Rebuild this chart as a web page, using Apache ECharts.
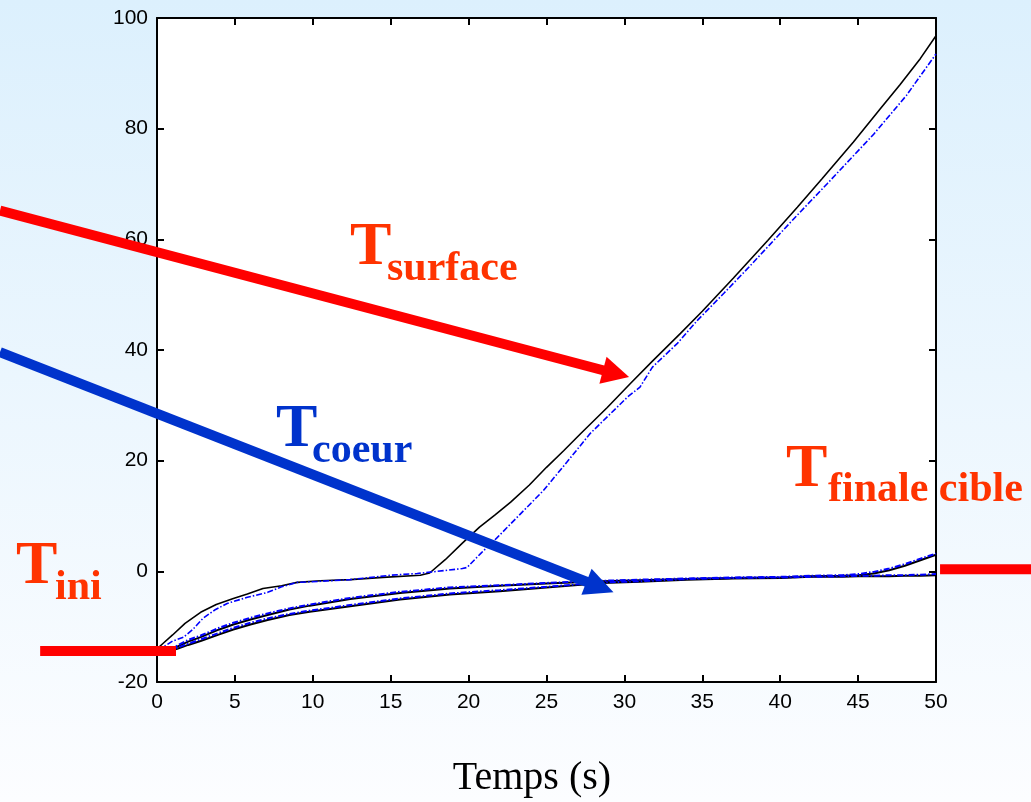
<!DOCTYPE html>
<html><head><meta charset="utf-8">
<script src="https://cdn.jsdelivr.net/npm/echarts@6/dist/echarts.min.js"></script>
<style>html,body{margin:0;padding:0;width:1031px;height:802px;overflow:hidden}#c{width:1031px;height:802px}</style>
</head><body><div id="c"></div>
<script>
// ---- axis definitions ----
const xMin = 0, xMax = 50, xStep = 5;
const yMin = -20, yMax = 100, yStep = 20;
const xTitle = 'Temps (s)';

// ---- surface temperature (black solid = measured, blue dash-dot = simulated) ----
const tSurfK = [0, 0.4, 1, 1.8, 2.8, 3.8, 4.9, 5.8, 6.8, 8, 9, 10.5, 12.4, 14.5, 16.9, 17.5, 18.5, 19.6, 20.7, 21.7, 22.7, 23.9, 25, 26.1, 27.2, 28.9, 30.4, 31.8, 33.6, 35, 37, 39.2, 41.1, 42.7, 44.7, 46.4, 47.7, 49, 50];
const ySurfK = [-14, -13, -11.5, -9.4, -7.4, -6, -4.9, -4.1, -3.1, -2.6, -2, -1.7, -1.5, -1.1, -0.7, -0.3, 2.1, 5.1, 8, 10.2, 12.5, 15.6, 18.8, 21.8, 24.9, 29.6, 34, 38, 43, 47, 53, 59.8, 65.8, 71, 77.6, 83.5, 88, 92.7, 96.8];
const tSurfB = [0, 0.4, 1, 1.7, 2.3, 2.95, 3.7, 4.5, 5.8, 7.1, 8, 9, 10.5, 12.4, 15, 16.7, 18, 19.6, 19.9, 20.8, 21.8, 23.3, 24.8, 26.3, 27.8, 29, 30.2, 31, 31.8, 33.4, 34.7, 36.4, 38.1, 40.8, 43, 46, 48.1, 50];
const ySurfB = [-14, -13.7, -12.6, -11.9, -10.5, -8.5, -7, -5.8, -4.7, -3.8, -2.8, -2, -1.8, -1.5, -0.7, -0.4, 0, 0.5, 0.7, 3.3, 6, 10.3, 14.6, 19.7, 24.9, 28.2, 31.5, 33.3, 36.9, 41.2, 45.4, 50.3, 55.3, 63.5, 70, 79, 86, 93.5];

// ---- inner temperatures ----
const tCore = [0, 1, 1.3, 2, 2.8, 4, 4.9, 6, 7.1, 8.5, 9.8, 12.4, 15.6, 18.8, 22, 25, 28.6, 31, 34, 37, 40, 42, 44, 45, 46, 47, 48, 49, 50];
const midK  = [-14.2, -14, -13.6, -12.7, -11.9, -10.5, -9.6, -8.7, -7.9, -6.9, -6.2, -5, -3.9, -3.1, -2.6, -2.2, -1.8, -1.6, -1.4, -1.2, -1.1, -0.9, -0.8, -0.7, -0.4, 0.2, 1.0, 2.0, 3.0];
const midB  = [-14.2, -13.9, -13.4, -12.4, -11.6, -10.2, -9.3, -8.4, -7.6, -6.7, -6.0, -4.8, -3.7, -2.9, -2.5, -2.1, -1.7, -1.5, -1.3, -1.1, -1.0, -0.8, -0.7, -0.5, -0.1, 0.5, 1.3, 2.3, 3.2];
const coreK = [-14.4, -14.2, -14, -13.3, -12.6, -11.4, -10.5, -9.6, -8.8, -7.9, -7.3, -6.3, -5.1, -4.2, -3.6, -2.9, -2.1, -1.9, -1.5, -1.3, -1.2, -1.0, -1.0, -0.9, -0.9, -0.9, -0.8, -0.8, -0.7];
const coreB = [-14.4, -14.1, -13.8, -13.1, -12.3, -11.1, -10.2, -9.3, -8.5, -7.7, -7.1, -6.1, -4.9, -4.0, -3.4, -2.8, -2.0, -1.8, -1.4, -1.2, -1.1, -1.0, -0.9, -0.8, -0.8, -0.7, -0.7, -0.6, -0.5];

// ---- annotation anchors (data units) ----
const arrowSurface = [[-10.08, 65.2], [30.3, 35.1]];
const arrowCore = [[-10.08, 39.6], [29.3, -3.8]];
const markIni = [[-7.5, -14.4], [1.22, -14.4]];
const markFinal = [[50.26, 0.36], [56.5, 0.36]];

const zip = (xs, ys) => xs.map((x, i) => [x, ys[i]]);
const chart = echarts.init(document.getElementById('c'));
const ORANGE = '#ff3300', RED = '#ff0000', BLUE = '#0033cc';
const SERIF = '"Liberation Serif","Times New Roman",serif';
const SANS = '"Liberation Sans",Arial,Helvetica,sans-serif';

const axisCommon = {
  type: 'value',
  axisLine: { show: true, onZero: false, lineStyle: { color: '#000', width: 2 } },
  axisTick: { show: true, inside: true, length: 7, lineStyle: { color: '#000', width: 2 } },
  splitLine: { show: false }
};
const lineSeries = (data, color, dashed, width) => ({
  type: 'line', data, showSymbol: false, symbol: 'none', animation: false,
  xAxisIndex: 0, yAxisIndex: 0,
  lineStyle: { color, width, type: dashed ? [6, 2, 1.5, 2] : 'solid' }
});

chart.setOption({
  animation: false,
  backgroundColor: new echarts.graphic.LinearGradient(0, 0, 0, 1, [
    { offset: 0, color: '#dcf0fd' }, { offset: 1, color: '#fcfdff' }
  ]),
  grid: { left: 157, right: 95, top: 18, bottom: 120, show: true, backgroundColor: '#ffffff', borderWidth: 0 },
  xAxis: [
    Object.assign({}, axisCommon, { position: 'bottom', min: xMin, max: xMax, interval: xStep,
      axisLabel: { color: '#000', fontFamily: SANS, fontSize: 21, margin: 10 } }),
    Object.assign({}, axisCommon, { position: 'top', min: xMin, max: xMax, interval: xStep, axisLabel: { show: false } })
  ],
  yAxis: [
    Object.assign({}, axisCommon, { position: 'left', min: yMin, max: yMax, interval: yStep,
      axisLabel: { color: '#000', fontFamily: SANS, fontSize: 21, margin: 9 } }),
    Object.assign({}, axisCommon, { position: 'right', min: yMin, max: yMax, interval: yStep, axisLabel: { show: false } })
  ],
  series: [
    lineSeries(zip(tCore, coreK), '#000', false, 2),
    lineSeries(zip(tCore, midK), '#000', false, 2),
    lineSeries(zip(tCore, coreB), '#0000ff', true, 2),
    lineSeries(zip(tCore, midB), '#0000ff', true, 2),
    lineSeries(zip(tSurfK, ySurfK), '#000', false, 1.6),
    lineSeries(zip(tSurfB, ySurfB), '#0000ff', true, 1.6)
  ]
});

const px = p => chart.convertToPixel({ seriesIndex: 0 }, p);

function arrow(pts, color, width, headLen, headHalf) {
  const a = px(pts[0]), b = px(pts[1]);
  const dx = b[0] - a[0], dy = b[1] - a[1], L = Math.hypot(dx, dy);
  const ux = dx / L, uy = dy / L, nx = -uy, ny = ux;
  const base = [b[0] - ux * headLen, b[1] - uy * headLen];
  return [
    { type: 'line', z: 100, shape: { x1: a[0], y1: a[1], x2: base[0] + ux * 2, y2: base[1] + uy * 2 },
      style: { stroke: color, lineWidth: width } },
    { type: 'polygon', z: 100, shape: { points: [b, [base[0] + nx * headHalf, base[1] + ny * headHalf], [base[0] - nx * headHalf, base[1] - ny * headHalf]] },
      style: { fill: color } }
  ];
}
function bar(pts, color, width) {
  const a = px(pts[0]), b = px(pts[1]);
  return { type: 'line', z: 100, shape: { x1: a[0], y1: a[1], x2: b[0], y2: b[1] }, style: { stroke: color, lineWidth: width } };
}
// text placed by left edge and baseline
function txt(s, left, baseline, size, color, weight) {
  return { type: 'text', z: 110, x: left, y: baseline - 0.33 * size,
    style: { text: s, fill: color, font: (weight || 'bold') + ' ' + size + 'px ' + SERIF, verticalAlign: 'middle', align: 'left' } };
}
function label(main, sub, left, baseline, subLeft, subBaseline, color) {
  return [txt(main, left, baseline, 62, color), txt(sub, subLeft, subBaseline, 42, color)];
}

const g = [].concat(
  arrow(arrowSurface, RED, 10, 27, 14),
  arrow(arrowCore, BLUE, 10, 29, 14),
  [bar(markIni, RED, 10), bar(markFinal, RED, 10)],
  label('T', 'surface', 350, 268, 387, 283, ORANGE),
  label('T', 'coeur', 276, 450, 312, 465, BLUE),
  label('T', 'finale cible', 786, 490, 828, 504, ORANGE),
  label('T', 'ini', 16, 587, 55, 602, ORANGE),
  [{ type: 'text', z: 110, x: 532, y: 792 - 0.33 * 40,
     style: { text: xTitle, fill: '#000', font: 'normal 40px ' + SERIF, verticalAlign: 'middle', align: 'center' } }]
);
chart.setOption({ graphic: g });
</script></body></html>
